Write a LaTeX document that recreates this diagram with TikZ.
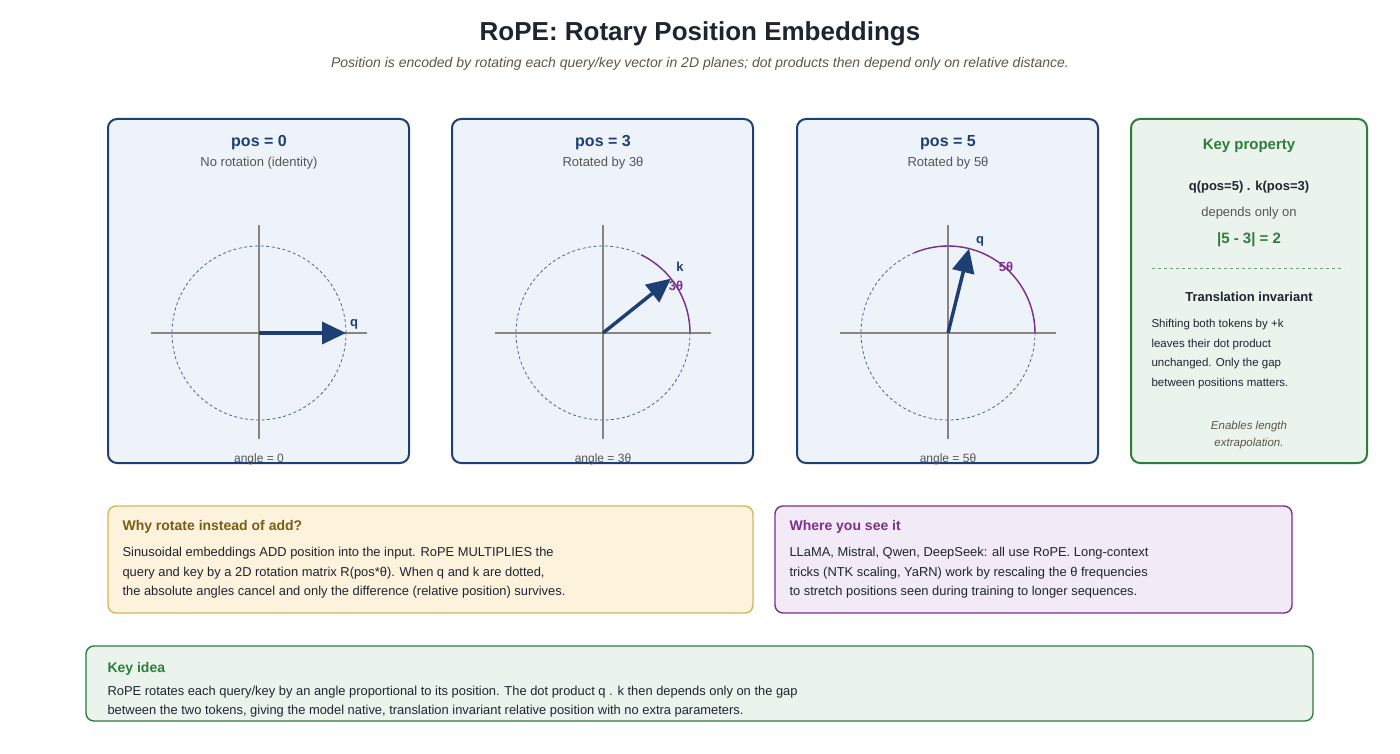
\documentclass[tikz,border=0pt]{standalone}
\usepackage{fontspec}
\setmainfont{Liberation Sans}
\usetikzlibrary{arrows.meta}
\definecolor{navy}{HTML}{1E3F73}
\definecolor{panelbg}{HTML}{EEF3FA}
\definecolor{axisgray}{HTML}{8A8580}
\definecolor{txtgray}{HTML}{555555}
\definecolor{arcpurple}{HTML}{7B2F8E}
\definecolor{keygreen}{HTML}{2E7D3C}
\definecolor{greenbg}{HTML}{EAF4EC}
\definecolor{yellowbg}{HTML}{FDF3DC}
\definecolor{yellowbd}{HTML}{D9B45A}
\definecolor{brown}{HTML}{7A5C14}
\definecolor{purplebg}{HTML}{F3EAF7}
\definecolor{darktxt}{HTML}{1F2430}
\newcommand{\fs}[2][1.2]{\fontsize{#2}{#1\dimexpr#2pt\relax}\selectfont}
\tikzset{
  panel/.style={draw=navy,line width=2pt,fill=panelbg,rounded corners=9pt},
  note/.style={line width=1.4pt,rounded corners=8pt},
  vec/.style={navy,line width=3.5pt,-{Triangle[length=24pt,width=22pt]}},
  ax/.style={axisgray,line width=1.4pt},
  ring/.style={navy!80,dashed,line width=0.8pt,dash pattern=on 3pt off 2.5pt},
  body/.style={anchor=west,text=darktxt,font=\fontsize{12.9}{19.5}\selectfont},
}
\begin{document}
\begin{tikzpicture}[x=1pt,y=-1pt]
    \useasboundingbox (0,0) rectangle (1400,754);
    % heading
    \node (title) at (700,34) {\fs{26}\bfseries\color{darktxt}RoPE: Rotary Position Embeddings};
    \node (sub) at (700,64) {\fs{14}\itshape\color{txtgray!80!brown}Position is encoded by rotating each query/key vector in 2D planes; dot products then depend only on relative distance.};
    % rotation panels
    \foreach \x/\p/\sub/\ang/\lab/\arc [count=\i] in {108/0/No rotation (identity)/0/q/0, 452/3/Rotated by 3θ/38.7/k/64, 797/5/Rotated by 5θ/76/q/113}{
        \draw[panel] (\x,119) rectangle ++(301,344);
        \coordinate (c\i) at (\x+151,333);
        \node (ptitle\i) at (\x+151,143) {\fs{16}\bfseries\color{navy}pos = \p};
        \node (psub\i) at (\x+151,163) {\fs{13}\color{txtgray}\sub};
        \draw[ax] ([xshift=-108pt]c\i) -- ([xshift=108pt]c\i);
        \draw[ax] ([yshift=-106pt]c\i) -- ([yshift=108pt]c\i);
        \draw[ring] (c\i) circle (87pt);
        \draw[vec] (c\i) -- ++(\ang:87pt) coordinate (tip\i);
        \node (angle\i) at (\x+151,459) {\fs{12}\color{txtgray}angle = \ifnum\p=0 0\else\p θ\fi};
    }
    \draw[arcpurple,line width=1.4pt] ([xshift=87pt]c2) arc[start angle=0,end angle=64,radius=87pt];
    \draw[arcpurple,line width=1.4pt] ([xshift=87pt]c3) arc[start angle=0,end angle=113,radius=87pt];
    \node (qlab1) at (354,324) {\fs{13}\bfseries\color{navy}q};
    \node (klab2) at (680,267) {\fs{13}\bfseries\color{navy}k};
    \node (alab2) at (676,286) {\fs{13}\bfseries\color{arcpurple}3θ};
    \node (qlab3) at (980,241) {\fs{13}\bfseries\color{navy}q};
    \node (alab3) at (1006,267) {\fs{13}\bfseries\color{arcpurple}5θ};
    % key property
    \draw[note,draw=keygreen,fill=greenbg,line width=2pt,rounded corners=9pt] (1131,119) rectangle (1367,463);
    \node (kp) at (1249,146) {\fs{15}\bfseries\color{keygreen}Key property};
    \node (kpdot) at (1249,187) {\fs{13}\bfseries\color{darktxt}q(pos=5) . k(pos=3)};
    \node (kpdep) at (1249,213) {\fs{13}\color{txtgray}depends only on};
    \node (kpgap) at (1249,240) {\fs{15}\bfseries\color{keygreen}|5 - 3| = 2};
    \draw[keygreen!70,dashed,line width=0.8pt] (1152,268) -- (1344,268);
    \node (kpti) at (1249,297) {\fs{13}\bfseries\color{darktxt}Translation invariant};
    \node[body,font=\fontsize{11.5}{19.4}\selectfont,align=left] (kpbody) at (1148,354) {Shifting both tokens by +k\\leaves their dot product\\unchanged. Only the gap\\between positions matters.};
    \node[align=center,font=\fontsize{11.5}{16.5}\selectfont\itshape,text=txtgray!80!brown] (kpext) at (1249,435) {Enables length\\extrapolation.};
    % notes
    \draw[note,draw=yellowbd,fill=yellowbg] (108,506) rectangle (753,613);
    \node[body,font=\fs{14}\bfseries,text=brown] (whyt) at (119,527) {Why rotate instead of add?};
    \node[body,align=left] (whyb) at (119,573) {Sinusoidal embeddings ADD position into the input. RoPE MULTIPLIES the\\query and key by a 2D rotation matrix R(pos*θ). When q and k are dotted,\\the absolute angles cancel and only the difference (relative position) survives.};
    \draw[note,draw=arcpurple,fill=purplebg] (775,506) rectangle (1292,613);
    \node[body,font=\fs{14}\bfseries,text=arcpurple] (seet) at (786,527) {Where you see it};
    \node[body,align=left] (seeb) at (786,573) {LLaMA, Mistral, Qwen, DeepSeek: all use RoPE. Long-context\\tricks (NTK scaling, YaRN) work by rescaling the θ frequencies\\to stretch positions seen during training to longer sequences.};
    \draw[note,draw=keygreen,fill=greenbg] (86,646) rectangle (1313,721);
    \node[body,font=\fs{14}\bfseries,text=keygreen] (ideat) at (104,669) {Key idea};
    \node[body,align=left,font=\fontsize{12.9}{19}\selectfont] (ideab) at (104,702) {RoPE rotates each query/key by an angle proportional to its position. The dot product q . k then depends only on the gap\\between the two tokens, giving the model native, translation invariant relative position with no extra parameters.};
\end{tikzpicture}
\end{document}
